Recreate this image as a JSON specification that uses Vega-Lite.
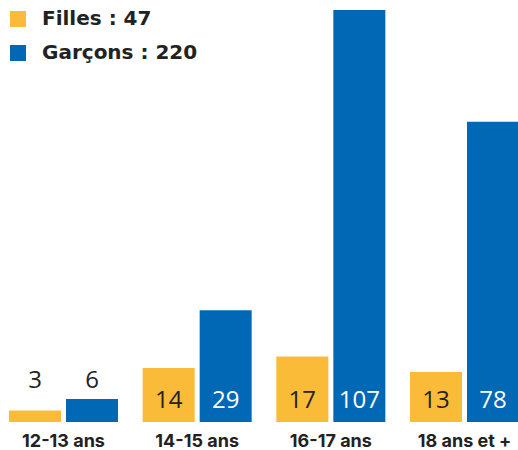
{
  "$schema": "https://vega.github.io/schema/vega-lite/v6.json",
  "width": 518,
  "height": 412,
  "autosize": "none",
  "padding": {"top": 10, "left": 0, "right": 0, "bottom": 28},
  "background": "white",
  "config": {"view": {"stroke": null}, "font": "Open Sans"},
  "data": {"values": [
    {"age": "12-13 ans", "sexe": "Filles", "n": 3},
    {"age": "12-13 ans", "sexe": "Garçons", "n": 6},
    {"age": "14-15 ans", "sexe": "Filles", "n": 14},
    {"age": "14-15 ans", "sexe": "Garçons", "n": 29},
    {"age": "16-17 ans", "sexe": "Filles", "n": 17},
    {"age": "16-17 ans", "sexe": "Garçons", "n": 107},
    {"age": "18 ans et +", "sexe": "Filles", "n": 13},
    {"age": "18 ans et +", "sexe": "Garçons", "n": 78}
  ]},
  "encoding": {
    "x": {"field": "age", "type": "nominal", "sort": null,
      "scale": {"range": [9, 519], "paddingInner": 0.1846, "paddingOuter": 0},
      "axis": {"title": null, "domain": false, "ticks": false, "labelAngle": 0,
        "labelFontSize": 18, "labelFontWeight": "bold", "labelColor": "#222222",
        "labelPadding": 10, "labelFont": "Inter"}},
    "xOffset": {"field": "sexe", "type": "nominal", "sort": ["Filles", "Garçons"],
      "scale": {"paddingInner": 0.0877, "paddingOuter": 0}}
  },
  "layer": [
    {
      "mark": {"type": "bar"},
      "encoding": {
        "y": {"field": "n", "type": "quantitative", "scale": {"domain": [0, 107], "nice": false}, "axis": null},
        "color": {"field": "sexe", "type": "nominal", "sort": ["Filles", "Garçons"],
          "scale": {"domain": ["Filles", "Garçons"], "range": ["#F9BB38", "#0068B4"]},
          "legend": {"orient": "none", "legendX": 8, "legendY": -1, "title": null,
            "symbolType": "square", "symbolSize": 256, "symbolStrokeWidth": 0,
            "labelFontSize": 20, "labelFontWeight": "bold", "labelColor": "#222222",
            "labelOffset": 14, "rowPadding": 14, "labelFont": "DejaVu Sans",
            "labelExpr": "datum.label == 'Filles' ? 'Filles : 47' : 'Garçons : 220'"}}
      }
    },
    {
      "transform": [{"filter": "datum.n >= 10"}],
      "mark": {"type": "text", "fontSize": 24, "baseline": "alphabetic", "dy": -14, "font": "Open Sans"},
      "encoding": {
        "y": {"datum": 0, "type": "quantitative", "scale": {"domain": [0, 107], "nice": false}},
        "text": {"field": "n", "type": "quantitative"},
        "color": {"condition": {"test": "datum.sexe == 'Garçons'", "value": "#ffffff"}, "value": "#222222"}
      }
    },
    {
      "transform": [{"filter": "datum.n < 10"}],
      "mark": {"type": "text", "fontSize": 24, "baseline": "alphabetic", "dy": -34, "color": "#222222", "font": "Open Sans"},
      "encoding": {
        "y": {"datum": 0, "type": "quantitative", "scale": {"domain": [0, 107], "nice": false}},
        "text": {"field": "n", "type": "quantitative"}
      }
    }
  ]
}
